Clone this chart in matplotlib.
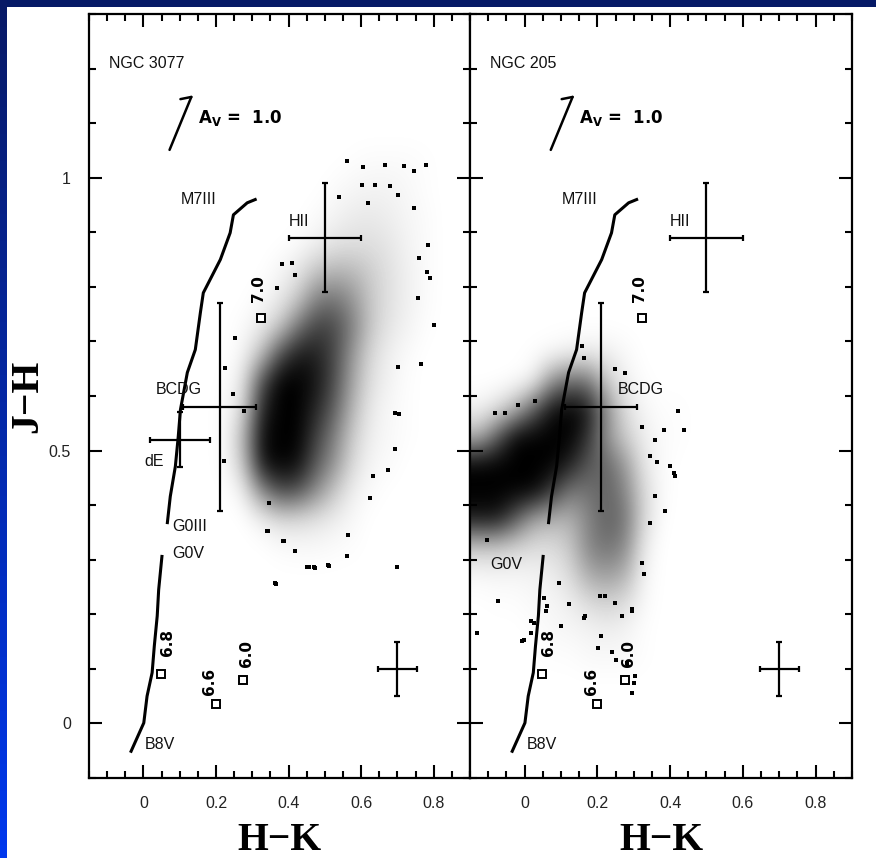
import numpy as np
import matplotlib
matplotlib.use("Agg")
import matplotlib.pyplot as plt
from matplotlib.colors import LinearSegmentedColormap
from matplotlib.ticker import MultipleLocator, FixedLocator, FuncFormatter

# ---------------- data ----------------
panel_names = ["NGC 3077", "NGC 205"]

# giant sequence G0III -> M7III
giant_hk = [0.066, 0.074, 0.088, 0.096, 0.102, 0.121, 0.143, 0.157, 0.165, 0.212, 0.239, 0.248, 0.286, 0.308]
giant_jh = [0.368, 0.416, 0.471, 0.526, 0.575, 0.643, 0.685, 0.753, 0.789, 0.850, 0.899, 0.932, 0.954, 0.960]
# dwarf sequence B8V -> G0V
dwarf_hk = [-0.034, 0.001, 0.010, 0.024, 0.030, 0.038, 0.042, 0.051]
dwarf_jh = [-0.051, 0.001, 0.050, 0.093, 0.142, 0.197, 0.245, 0.306]

# model points (log age)
track_hk = [0.323, 0.049, 0.200, 0.275]
track_jh = [0.743, 0.091, 0.035, 0.079]
track_age = ["7.0", "6.8", "6.6", "6.0"]

# error crosses
cross_name = ["HII", "BCDG", "dE", "typical"]
cross_hk = [0.50, 0.21, 0.10, 0.70]
cross_jh = [0.89, 0.58, 0.52, 0.10]
cross_xerr = [0.10, 0.10, 0.083, 0.053]
cross_yerr = [0.10, 0.19, 0.05, 0.05]
cross_in_ngc205 = [True, True, False, True]

# reddening vector A_V = 1
redvec_hk = [0.072, 0.132]
redvec_jh = [1.051, 1.148]

# point density of the NGC 3077 cloud (fraction of area covered by dots), 0.05 cells
# columns H-K 0.20..0.85, rows J-H 1.05 (top) .. 0.25 (bottom)
cloud3077_hk = [0.20, 0.85]
cloud3077_jh = [0.25, 1.05]
cloud3077 = [
    [0, 0, 0, 0, 0, 0, 0, 0.01, 0.02, 0.02, 0.02, 0.01, 0],
    [0, 0, 0, 0, 0, 0, 0.02, 0.04, 0.05, 0.05, 0.03, 0.01, 0],
    [0, 0, 0, 0, 0, 0.02, 0.05, 0.08, 0.09, 0.07, 0.04, 0.02, 0],
    [0, 0, 0, 0, 0.02, 0.06, 0.11, 0.13, 0.13, 0.10, 0.05, 0.02, 0],
    [0, 0, 0, 0.04, 0.10, 0.24, 0.30, 0.28, 0.20, 0.12, 0.06, 0.02, 0],
    [0, 0, 0.03, 0.08, 0.22, 0.50, 0.55, 0.42, 0.22, 0.12, 0.06, 0.02, 0],
    [0, 0.02, 0.08, 0.22, 0.55, 0.75, 0.72, 0.50, 0.22, 0.10, 0.05, 0.01, 0],
    [0, 0.04, 0.25, 0.70, 0.90, 0.88, 0.72, 0.40, 0.15, 0.06, 0.02, 0, 0],
    [0.01, 0.10, 0.70, 1.00, 1.00, 0.92, 0.70, 0.35, 0.12, 0.05, 0.01, 0, 0],
    [0.02, 0.15, 0.85, 1.00, 1.00, 0.85, 0.62, 0.28, 0.08, 0.03, 0.01, 0, 0],
    [0.02, 0.28, 0.95, 1.00, 1.00, 0.75, 0.50, 0.20, 0.06, 0.03, 0.01, 0, 0],
    [0.02, 0.22, 0.92, 1.00, 0.95, 0.65, 0.42, 0.14, 0.04, 0.02, 0, 0, 0],
    [0, 0.06, 0.45, 0.72, 0.68, 0.45, 0.22, 0.06, 0.02, 0, 0, 0, 0],
    [0, 0, 0.06, 0.14, 0.14, 0.11, 0.07, 0.03, 0, 0, 0, 0, 0],
    [0, 0, 0, 0.02, 0.03, 0.03, 0.02, 0.01, 0, 0, 0, 0, 0],
    [0, 0, 0, 0, 0, 0, 0, 0, 0, 0, 0, 0, 0],
]
# point density of the NGC 205 cloud; columns H-K -0.15..0.45, rows J-H 0.70 .. 0.10
cloud205_hk = [-0.15, 0.45]
cloud205_jh = [0.10, 0.70]
cloud205 = [
    [0, 0, 0, 0.01, 0.03, 0.06, 0.09, 0.07, 0.03, 0, 0, 0],
    [0, 0, 0.01, 0.06, 0.45, 0.60, 0.55, 0.22, 0.06, 0.01, 0, 0],
    [0.05, 0.12, 0.30, 0.65, 0.95, 1.00, 0.90, 0.45, 0.14, 0.04, 0.01, 0.01],
    [0.30, 0.65, 1.00, 1.00, 1.00, 1.00, 0.80, 0.42, 0.20, 0.07, 0.02, 0.01],
    [1.00, 1.00, 1.00, 1.00, 1.00, 0.88, 0.65, 0.60, 0.40, 0.10, 0.02, 0],
    [1.00, 1.00, 1.00, 1.00, 0.78, 0.52, 0.55, 0.62, 0.48, 0.16, 0.02, 0],
    [0.92, 0.92, 0.65, 0.35, 0.30, 0.30, 0.48, 0.62, 0.55, 0.16, 0.01, 0],
    [0.22, 0.22, 0.17, 0.14, 0.14, 0.22, 0.48, 0.56, 0.48, 0.09, 0, 0],
    [0.03, 0.04, 0.04, 0.05, 0.07, 0.15, 0.34, 0.40, 0.32, 0.05, 0, 0],
    [0, 0.01, 0.01, 0.03, 0.04, 0.07, 0.15, 0.19, 0.15, 0.03, 0, 0],
    [0, 0, 0, 0.01, 0.03, 0.04, 0.05, 0.07, 0.05, 0.01, 0, 0],
    [0, 0, 0, 0, 0.01, 0.01, 0.03, 0.03, 0.03, 0.01, 0, 0],
]

# isolated stars around the clouds
out3077_hk = [0.560, 0.606, 0.666, 0.718, 0.778, 0.746, 0.602, 0.638, 0.680, 0.701, 0.539, 0.620,
              0.746, 0.785, 0.759, 0.781, 0.790, 0.757, 0.800, 0.764, 0.701, 0.693, 0.705, 0.694,
              0.675, 0.634, 0.624, 0.565, 0.560, 0.698, 0.510, 0.473, 0.455, 0.418, 0.386, 0.342,
              0.363, 0.345, 0.253, 0.226, 0.221, 0.248, 0.276, 0.381, 0.409, 0.368, 0.418, 0.364,
              0.450, 0.471, 0.512, 0.388, 0.340]
out3077_jh = [1.030, 1.019, 1.024, 1.021, 1.024, 1.012, 0.987, 0.986, 0.984, 0.969, 0.964, 0.954,
              0.944, 0.877, 0.853, 0.828, 0.816, 0.780, 0.730, 0.658, 0.654, 0.569, 0.567, 0.502,
              0.465, 0.453, 0.413, 0.346, 0.306, 0.286, 0.291, 0.285, 0.286, 0.316, 0.334, 0.352,
              0.258, 0.404, 0.706, 0.651, 0.480, 0.603, 0.572, 0.841, 0.844, 0.798, 0.822, 0.256,
              0.286, 0.286, 0.289, 0.334, 0.353]
out205_hk = [0.422, 0.437, 0.401, 0.413, 0.385, 0.359, 0.346, 0.277, 0.249, 0.158, 0.162, -0.072,
             -0.131, -0.007, 0.025, 0.061, 0.094, 0.121, 0.167, 0.208, 0.222, 0.249, 0.268, 0.295,
             0.327, 0.323, 0.346, 0.382, 0.359, 0.323, -0.017, -0.081, -0.053, 0.029, -0.104,
             0.209, 0.203, 0.241, 0.252, 0.282, 0.296, 0.303, 0.301, 0.296, 0.163, 0.099, 0.058,
             0.017, 0.018, 0.053, 0.411, 0.365, -0.002]
out205_jh = [0.573, 0.538, 0.471, 0.453, 0.389, 0.416, 0.368, 0.642, 0.650, 0.691, 0.670, 0.224,
             0.166, 0.151, 0.184, 0.215, 0.258, 0.218, 0.197, 0.233, 0.233, 0.221, 0.197, 0.209,
             0.273, 0.294, 0.490, 0.538, 0.520, 0.544, 0.584, 0.569, 0.569, 0.590, 0.337,
             0.160, 0.139, 0.131, 0.117, 0.111, 0.056, 0.087, 0.075, 0.206, 0.194, 0.178, 0.206,
             0.187, 0.166, 0.230, 0.459, 0.479, 0.152]

x_ticks = [0, 0.2, 0.4, 0.6, 0.8]
y_ticks = [0, 0.5, 1.0]

# ---------------- figure ----------------
W, H = 876, 858
fig = plt.figure(figsize=(W / 100, H / 100), dpi=100)
fig.patch.set_facecolor("white")

# slide background bands
band_top = fig.add_axes([0, 1 - 7 / H, 1, 7 / H])
band_top.imshow([[[0.02, 0.10, 0.40]]], aspect="auto", extent=[0, 1, 0, 1])
band_top.set_axis_off()
band_left = fig.add_axes([0, 0, 7 / W, 1])
grad = np.linspace(0, 1, 64)[:, None, None]
top_c = np.array([0.03, 0.10, 0.40])
bot_c = np.array([0.00, 0.22, 0.93])
band_left.imshow(top_c + (bot_c - top_c) * grad * np.ones((1, 1, 3)), aspect="auto", extent=[0, 1, 0, 1])
band_left.set_axis_off()

axL = fig.add_axes([89 / W, 80 / H, 381 / W, 764 / H])
axR = fig.add_axes([470 / W, 80 / H, 382 / W, 764 / H])

cloud_cmap = LinearSegmentedColormap.from_list("dots", [(0, 0, 0, 0), (0, 0, 0, 1)])
small_font = dict(family=["Liberation Sans", "DejaVu Sans"], fontsize=11.5, color="#111111")
bold_font = dict(family="DejaVu Sans", fontweight="bold", color="black")
serif_font = dict(family=["Liberation Serif", "DejaVu Serif"], fontweight="bold", fontsize=28.5)

fmt = FuncFormatter(lambda v, p: "0" if abs(v) < 1e-9 else f"{v:g}")


def padded(grid, hk, jh, keep_left):
    """Surround the density grid with one empty cell (or repeat the edge column at the axis edge)."""
    g = np.array(grid, dtype=float)
    g = np.pad(g, 1, mode="constant")
    if keep_left:
        g[:, 0] = g[:, 1]
    step = (hk[1] - hk[0]) / (g.shape[1] - 2)
    stepy = (jh[1] - jh[0]) / (g.shape[0] - 2)
    return g, [hk[0] - step, hk[1] + step, jh[0] - stepy, jh[1] + stepy]


panels = [
    (axL, cloud3077, cloud3077_hk, cloud3077_jh, out3077_hk, out3077_jh, False),
    (axR, cloud205, cloud205_hk, cloud205_jh, out205_hk, out205_jh, True),
]

for i, (ax, grid, ghk, gjh, ohk, ojh, keep_left) in enumerate(panels):
    g, ext = padded(grid, ghk, gjh, keep_left)
    ax.imshow(g, extent=ext, origin="upper", cmap=cloud_cmap, vmin=0, vmax=1,
              interpolation="bicubic", aspect="auto", zorder=1)
    ax.plot(ohk, ojh, "s", ms=2.3, mew=0, color="black", zorder=2)

    ax.plot(giant_hk, giant_jh, color="black", lw=2.2, solid_joinstyle="round", zorder=3)
    ax.plot(dwarf_hk, dwarf_jh, color="black", lw=2.2, solid_joinstyle="round", zorder=3)

    for k in range(len(cross_name)):
        if i == 1 and not cross_in_ngc205[k]:
            continue
        ax.errorbar(cross_hk[k], cross_jh[k], xerr=cross_xerr[k], yerr=cross_yerr[k],
                    fmt="none", ecolor="black", elinewidth=1.6, capsize=2.5, capthick=1.6, zorder=3)

    ax.plot(track_hk, track_jh, "s", ms=5.5, mfc="white", mec="black", mew=1.4, zorder=4)
    offs = [(-1.5, 21.5), (4.5, 22.5), (-4.5, 16.5), (2.5, 19.5)]
    for k in range(len(track_age)):
        ax.annotate(track_age[k], (track_hk[k], track_jh[k]), xytext=offs[k],
                    textcoords="offset points", rotation=90, ha="center", va="center",
                    fontsize=11, zorder=5, **bold_font)

    # reddening vector
    ax.plot(redvec_hk, redvec_jh, color="black", lw=1.8, solid_capstyle="round", zorder=3)
    ax.plot([redvec_hk[1], 0.102], [redvec_jh[1], 1.144], color="black", lw=1.8,
            solid_capstyle="round", zorder=3)
    ax.text(0.150, 1.11, r"$\mathbf{A_V}$ =  1.0", fontsize=12, ha="left", va="center", **bold_font)

    ax.text(-0.096, 1.21, panel_names[i], ha="left", va="center", **small_font)
    ax.text(0.103, 0.96, "M7III", ha="left", va="center", **small_font)
    ax.text(0.400, 0.92, "HII", ha="left", va="center", **small_font)
    ax.text(0.003 if i == 0 else 0.006, -0.038, "B8V", ha="left", va="center", **small_font)
    if i == 0:
        ax.text(0.033, 0.612, "BCDG", ha="left", va="center", **small_font)
        ax.text(0.003, 0.480, "dE", ha="left", va="center", **small_font)
        ax.text(0.080, 0.361, "G0III", ha="left", va="center", **small_font)
        ax.text(0.080, 0.311, "G0V", ha="left", va="center", **small_font)
    else:
        ax.text(0.255, 0.612, "BCDG", ha="left", va="center", **small_font)
        ax.text(-0.094, 0.291, "G0V", ha="left", va="center", **small_font)

    ax.set_xlim(-0.15, 0.9)
    ax.set_ylim(-0.1, 1.3)
    for s in ax.spines.values():
        s.set_linewidth(1.6)
    ax.xaxis.set_major_locator(FixedLocator(x_ticks))
    ax.xaxis.set_minor_locator(MultipleLocator(0.05))
    ax.yaxis.set_major_locator(FixedLocator(y_ticks))
    ax.yaxis.set_minor_locator(MultipleLocator(0.1))
    ax.xaxis.set_major_formatter(fmt)
    ax.yaxis.set_major_formatter(fmt)
    ax.tick_params(which="both", direction="in", top=True, right=True, width=1.5, color="black")
    ax.tick_params(which="major", length=9.5, pad=13, labelsize=11.5, labelcolor="#222222")
    ax.tick_params(which="minor", length=5)
    for lab in ax.get_xticklabels() + ax.get_yticklabels():
        lab.set_family(["Liberation Sans", "DejaVu Sans"])
    if i == 1:
        ax.tick_params(labelleft=False)

    ax.text(0.5, -0.0942, "H\u2212K", transform=ax.transAxes, ha="center", va="baseline", **serif_font)

axL.text(-0.1365, 0.5, "J\u2212H", transform=axL.transAxes, rotation=90, rotation_mode="anchor",
         ha="center", va="baseline", **serif_font)

fig.savefig("out.png", dpi=100, facecolor="white")
